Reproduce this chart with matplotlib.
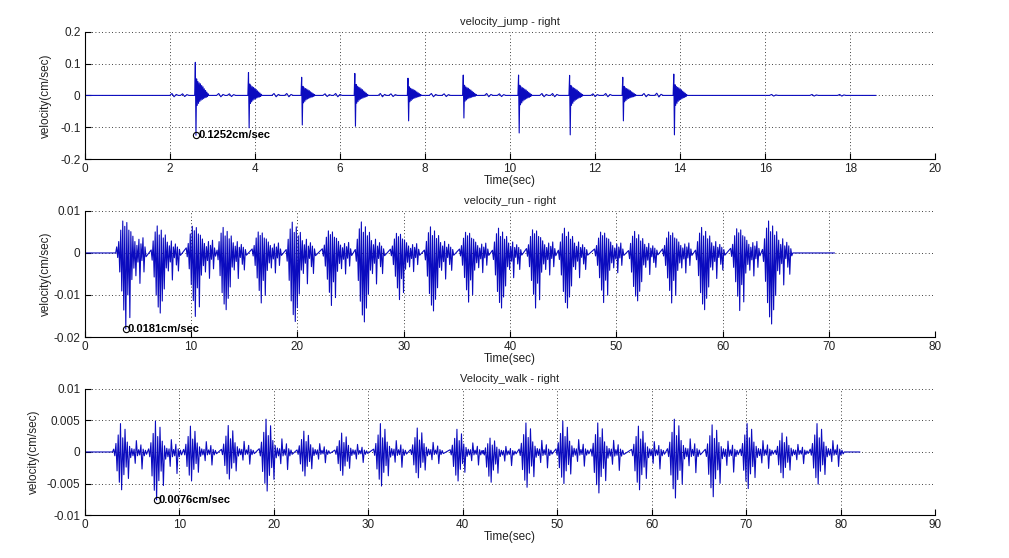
import numpy as np
import matplotlib
matplotlib.use('Agg')
import matplotlib.pyplot as plt

plt.rcParams['font.family'] = ['Liberation Sans', 'DejaVu Sans']

# ---------------- data ----------------
# jump: impact events (time, upward peak, downward peak)
jump_t = [2.6, 3.85, 5.1, 6.35, 7.6, 8.9, 10.2, 11.4, 12.65, 13.85]
jump_up = [0.104, 0.072, 0.057, 0.069, 0.054, 0.064, 0.064, 0.063, 0.057, 0.067]
jump_dn = [-0.1252, -0.102, -0.093, -0.097, -0.080, -0.071, -0.118, -0.124, -0.080, -0.124]
# ringing after each impact, as a fraction of the peaks
jump_ring = [0.0, 1.0, -1.0, 0.5, -0.25, 0.42, -0.2, 0.38, -0.15, 0.35, -0.12, 0.3,
             -0.1, 0.26, -0.08, 0.2, -0.06, 0.15, -0.05, 0.1, -0.03, 0.05, 0.0]
# small wiggles between impacts
wig_t = [2.1, 2.35, 3.2, 3.45, 4.5, 4.8, 5.7, 5.95, 7.0, 7.25, 8.2, 8.5,
         9.5, 9.8, 10.8, 11.05, 12.0, 12.3, 13.2, 13.5, 16.2, 17.15, 17.8]
wig_a = [0.006, 0.005, 0.006, 0.005, 0.006, 0.006, 0.005, 0.006, 0.006, 0.005, 0.006, 0.005,
         0.006, 0.005, 0.006, 0.006, 0.005, 0.006, 0.006, 0.007, 0.003, 0.003, 0.003]
wig_shape = [0.0, 1.0, -0.7, 0.5, 0.0]
jump_end = 18.6

# run: burst centres (largest negative spike) and their minima
run_c = [3.86, 7.1, 10.4, 13.3, 16.6, 19.8, 23.2, 26.3, 29.6, 32.8,
         36.1, 39.2, 42.4, 45.4, 48.8, 52.0, 55.2, 58.3, 61.6, 64.6]
run_min = [-0.0181, -0.0143, -0.0151, -0.0135, -0.0119, -0.0163, -0.0125, -0.0164, -0.0111, -0.0138,
           -0.0117, -0.0131, -0.0131, -0.0131, -0.0118, -0.0114, -0.0119, -0.0135, -0.0137, -0.0169]
run_shape_a = [0.08, -0.06, 0.15, -0.25, 0.3, -0.5, 0.42, -0.75, 0.35, -1.0, 0.4, -0.55, 0.3, -0.85, 0.28,
               -0.35, 0.22, -0.2, 0.15, -0.3, 0.1, -0.12, 0.18, -0.4, 0.12, -0.1, 0.2, -0.25, 0.08, -0.05]
run_shape_b = [0.05, -0.12, 0.2, -0.4, 0.35, -0.7, 0.45, -0.9, 0.3, -1.0, 0.38, -0.8, 0.25, -0.6, 0.3,
               -0.25, 0.18, -0.3, 0.12, -0.15, 0.2, -0.45, 0.1, -0.08, 0.15, -0.2, 0.1, -0.3, 0.06, -0.04]
run_end = 70.5

# walk: burst centres, maxima and minima
walk_c = [3.9, 7.6, 11.3, 15.3, 19.3, 23.3, 27.3, 31.4, 35.3, 39.5,
          43.0, 46.8, 50.7, 54.4, 58.7, 62.5, 66.5, 70.2, 73.9, 77.6]
walk_max = [0.0045, 0.0049, 0.0041, 0.0042, 0.0052, 0.0033, 0.0030, 0.0045, 0.0038, 0.0036,
            0.0022, 0.0046, 0.0049, 0.0046, 0.0041, 0.0052, 0.0043, 0.0045, 0.0030, 0.0045]
walk_min = [-0.0060, -0.0076, -0.0046, -0.0043, -0.0062, -0.0038, -0.0037, -0.0054, -0.0041, -0.0046,
            -0.0048, -0.0056, -0.0050, -0.0065, -0.0060, -0.0073, -0.0071, -0.0058, -0.0041, -0.0051]
walk_shape = [0.1, -0.1, 0.3, -0.5, 0.6, -0.8, 1.0, -1.0, 0.5, -0.6, 0.8, -0.4, 0.35, -0.7, 0.2,
              -0.15, 0.12, -0.1, 0.1, -0.3, 0.4, -0.1, 0.08, -0.08, 0.25, -0.45, 0.1, -0.1, 0.06, -0.06]
walk_end = 82.0

titles = ['velocity_jump - right', 'velocity_run - right', 'Velocity_walk - right']
xticks = [[0, 2, 4, 6, 8, 10, 12, 14, 16, 18, 20],
          [0, 10, 20, 30, 40, 50, 60, 70, 80],
          [0, 10, 20, 30, 40, 50, 60, 70, 80, 90]]
ylims = [(-0.2, 0.2), (-0.02, 0.01), (-0.01, 0.01)]
yticks = [[-0.2, -0.1, 0, 0.1, 0.2], [-0.02, -0.01, 0, 0.01], [-0.01, -0.005, 0, 0.005, 0.01]]
yticklabels = [['-0.2', '-0.1', '0', '0.1', '0.2'], ['-0.02', '-0.01', '0', '0.01'],
               ['-0.01', '-0.005', '0', '0.005', '0.01']]
notes = ['0.1252cm/sec', '0.0181cm/sec', '0.0076cm/sec']


def scaled(shape, up, dn):
    s = np.array(shape)
    return np.where(s > 0, s * up, -s * dn)


# ---------------- build the traces ----------------
pts = [(0.0, 0.0), (jump_end, 0.0)]
for t0, u, d in zip(jump_t, jump_up, jump_dn):
    vals = scaled(jump_ring, u, d)
    for k, v in enumerate(vals):
        pts.append((t0 - 0.015 + k * 0.015, v))
for t0, a in zip(wig_t, wig_a):
    for k, f in enumerate(wig_shape):
        pts.append((t0 - 0.1 + k * 0.05, f * a))
pts.sort()
jt = np.array([p[0] for p in pts])
jv = np.array([p[1] for p in pts])

rt, rv = [0.0], [0.0]
step = 0.095
for i, (c, m) in enumerate(zip(run_c, run_min)):
    shp = run_shape_a if i % 2 == 0 else run_shape_b
    vals = np.array(shp) * (-m)
    start = c - 9 * step
    if i == 0:
        rt.append(start - step)
        rv.append(0.0)
    for k, v in enumerate(vals):
        rt.append(start + k * step)
        rv.append(v)
rt += [rt[-1] + step, run_end]
rv += [0.0, 0.0]

wt, wv = [0.0], [0.0]
wstep = 0.12
for i, (c, mx, mn) in enumerate(zip(walk_c, walk_max, walk_min)):
    vals = scaled(walk_shape, mx, mn)
    start = c - 7 * wstep
    if i == 0:
        wt.append(start - wstep)
        wv.append(0.0)
    for k, v in enumerate(vals):
        wt.append(start + k * wstep)
        wv.append(v)
wt += [wt[-1] + wstep, walk_end]
wv += [0.0, 0.0]

traces = [(jt, jv), (np.array(rt), np.array(rv)), (np.array(wt), np.array(wv))]

# ---------------- draw ----------------
fig = plt.figure(figsize=(10.09, 5.58), dpi=100)
boxes = [[0.084, 0.715, 0.843, 0.228], [0.084, 0.396, 0.843, 0.226], [0.084, 0.077, 0.843, 0.226]]
ylabel_x = [-0.039, -0.039, -0.053]

for i in range(3):
    ax = fig.add_axes(boxes[i])
    x, y = traces[i]
    ax.plot(x, y, color='#0b0bbf', lw=0.8)
    ax.set_xlim(xticks[i][0], xticks[i][-1])
    ax.set_xticks(xticks[i])
    ax.set_xticklabels([str(v) for v in xticks[i]])
    ax.set_ylim(*ylims[i])
    ax.set_yticks(yticks[i])
    ax.set_yticklabels(yticklabels[i])
    ax.grid(True, color='black', linestyle=(0, (1, 3)), linewidth=0.6)
    ax.spines['top'].set_visible(False)
    ax.spines['right'].set_visible(False)
    ax.tick_params(direction='in', length=4, labelsize=8.5, labelcolor='#222222')
    ax.tick_params(axis='x', pad=3)
    ax.tick_params(axis='y', pad=3)
    ax.set_title(titles[i], fontsize=8, pad=5, color='#222222')
    ax.set_xlabel('Time(sec)', fontsize=8.5, labelpad=0, color='#222222')
    ax.set_ylabel('velocity(cm/sec)', fontsize=8.5, color='#222222')
    ax.yaxis.set_label_coords(ylabel_x[i], 0.5)

    k = int(np.argmin(y))
    ax.plot(x[k], y[k], 'o', mfc='none', mec='black', ms=4.5, mew=0.8, clip_on=False)
    ax.annotate(notes[i], (x[k], y[k]), xytext=(1.5, 0), textcoords='offset points',
                fontsize=8, fontweight='bold', va='center', ha='left')

fig.savefig('out.png', dpi=100)
